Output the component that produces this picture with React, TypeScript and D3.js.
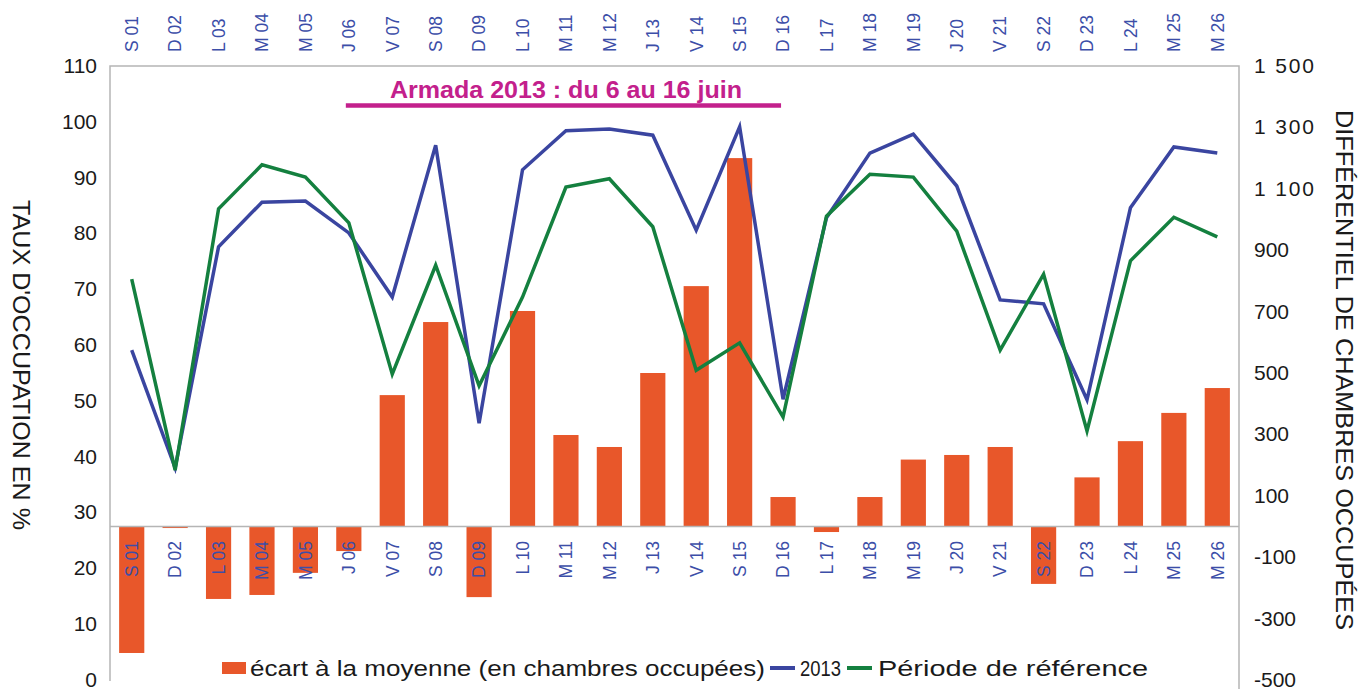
import { useEffect, useRef } from "react";
import * as d3 from "d3";

const categories = [
  "S 01", "D 02", "L 03", "M 04", "M 05", "J 06", "V 07", "S 08", "D 09",
  "L 10", "M 11", "M 12", "J 13", "V 14", "S 15", "D 16", "L 17", "M 18",
  "M 19", "J 20", "V 21", "S 22", "D 23", "L 24", "M 25", "M 26",
];

// écart à la moyenne (en chambres occupées) - right axis
const ecart = [
  -412, -5, -236, -223, -151, -80, 428, 666, -230, 702, 298, 259, 500, 783,
  1200, 96, -18, 96, 218, 233, 259, -187, 160, 278, 370, 451,
];

// taux d'occupation 2013 - left axis
const taux2013 = [
  59.1, 38.0, 77.6, 85.6, 85.8, 80.1, 68.6, 95.8, 46.0, 91.4, 98.4, 98.7,
  97.6, 80.6, 99.1, 50.3, 82.8, 94.4, 97.8, 88.5, 68.1, 67.4, 50.2, 84.6,
  95.5, 94.4,
];

// période de référence - left axis
const tauxRef = [
  71.8, 37.6, 84.4, 92.3, 90.1, 81.9, 54.8, 74.3, 52.7, 68.6, 88.3, 89.8,
  81.2, 55.5, 60.4, 47.1, 83.1, 90.6, 90.1, 80.4, 59.1, 72.7, 44.6, 75.1,
  82.9, 79.4,
];

const leftTicks = [0, 10, 20, 30, 40, 50, 60, 70, 80, 90, 100, 110];
const rightTicks = [-500, -300, -100, 100, 300, 500, 700, 900, 1100, 1300, 1500];

const armadaStart = "J 06";
const armadaEnd = "D 16";

const ORANGE = "#e8572a";
const BLUE = "#3a45a0";
const GREEN = "#14803f";
const MAGENTA = "#c3208c";
const LABEL_BLUE = "#3c4ea8";
const GRID = "#b5b5b5";
const FONT = "'Liberation Sans', Arial, sans-serif";

export default function App() {
  const svgRef = useRef<SVGSVGElement>(null);
  const width = 1359;
  const height = 689;

  useEffect(() => {
    if (!svgRef.current) return;
    d3.select(svgRef.current).selectAll("*").remove();
    const svg = d3.select(svgRef.current);

    const left = 110;
    const right = 1239;
    const top = 66;
    const bottom = 680;

    const x = d3
      .scaleBand()
      .domain(categories)
      .range([left, right])
      .paddingInner(0.42)
      .paddingOuter(0.21);
    const cx = (c: string) => (x(c) as number) + x.bandwidth() / 2;

    const yL = d3.scaleLinear().domain([0, 110]).range([bottom, top]);
    const yR = d3.scaleLinear().domain([-500, 1500]).range([bottom, top]);

    // bars
    svg
      .append("g")
      .selectAll("rect")
      .data(ecart)
      .join("rect")
      .attr("x", (_, i) => x(categories[i]) as number)
      .attr("width", x.bandwidth())
      .attr("y", (d) => yR(Math.max(0, d)))
      .attr("height", (d) => Math.abs(yR(d) - yR(0)))
      .attr("fill", ORANGE);

    // frame
    svg
      .append("path")
      .attr("d", `M${left},${bottom + 1}V${top}H${right}V${height}`)
      .attr("fill", "none")
      .attr("stroke", GRID)
      .attr("stroke-width", 1.5);
    svg
      .append("line")
      .attr("x1", left)
      .attr("x2", right)
      .attr("y1", yR(0))
      .attr("y2", yR(0))
      .attr("stroke", GRID)
      .attr("stroke-width", 1.5);

    // lines
    const line = d3
      .line<number>()
      .x((_, i) => cx(categories[i]))
      .y((d) => yL(d));
    svg
      .append("path")
      .datum(taux2013)
      .attr("d", line)
      .attr("fill", "none")
      .attr("stroke", BLUE)
      .attr("stroke-width", 3.5);
    svg
      .append("path")
      .datum(tauxRef)
      .attr("d", line)
      .attr("fill", "none")
      .attr("stroke", GREEN)
      .attr("stroke-width", 3.5);

    // category labels (top and on the zero line)
    const cats = svg.append("g").attr("font-family", FONT).attr("font-size", 17.5).attr("fill", LABEL_BLUE);
    categories.forEach((c) => {
      cats
        .append("text")
        .attr("transform", `translate(${cx(c)},52) rotate(-90)`)
        .attr("dy", "0.36em")
        .attr("text-anchor", "start")
        .text(c);
      cats
        .append("text")
        .attr("transform", `translate(${cx(c)},541) rotate(-90)`)
        .attr("dy", "0.36em")
        .attr("text-anchor", "end")
        .text(c);
    });

    // left axis labels
    const axL = svg.append("g").attr("font-family", FONT).attr("font-size", 21).attr("fill", "#1a1a1a");
    leftTicks.forEach((t) => {
      axL
        .append("text")
        .attr("x", 97)
        .attr("y", yL(t))
        .attr("dy", "0.33em")
        .attr("text-anchor", "end")
        .text(t);
    });

    // right axis labels
    const fmt = (v: number) =>
      Math.abs(v) >= 1000
        ? `${Math.trunc(v / 1000)}\u00a0${String(Math.abs(v) % 1000).padStart(3, "0")}`
        : String(v);
    const axR = svg.append("g").attr("font-family", FONT).attr("font-size", 21).attr("fill", "#1a1a1a");
    rightTicks.forEach((t) => {
      const txt = axR
        .append("text")
        .attr("x", 1254)
        .attr("y", yR(t))
        .attr("dy", "0.33em")
        .attr("text-anchor", "start")
        .text(fmt(t));
      if (Math.abs(t) >= 1000) txt.attr("textLength", 60);
    });

    // axis titles
    svg
      .append("text")
      .attr("transform", `translate(21,365) rotate(90)`)
      .attr("dy", "0.36em")
      .attr("text-anchor", "middle")
      .attr("font-family", FONT)
      .attr("font-size", 23)
      .attr("textLength", 330)
      .attr("lengthAdjust", "spacingAndGlyphs")
      .attr("fill", "#1a1a1a")
      .text("TAUX D'OCCUPATION EN %");
    svg
      .append("text")
      .attr("transform", `translate(1344,370) rotate(90)`)
      .attr("dy", "0.36em")
      .attr("text-anchor", "middle")
      .attr("font-family", FONT)
      .attr("font-size", 23)
      .attr("textLength", 520)
      .attr("lengthAdjust", "spacingAndGlyphs")
      .attr("fill", "#1a1a1a")
      .text("DIFFÉRENTIEL DE CHAMBRES OCCUPÉES");

    // Armada annotation
    const ax1 = cx(armadaStart);
    const ax2 = cx(armadaEnd);
    svg
      .append("line")
      .attr("x1", ax1 - 3)
      .attr("x2", ax2 - 2)
      .attr("y1", 105.5)
      .attr("y2", 105.5)
      .attr("stroke", MAGENTA)
      .attr("stroke-width", 4.5);
    svg
      .append("text")
      .attr("x", 390)
      .attr("y", 98)
      .attr("text-anchor", "start")
      .attr("font-family", FONT)
      .attr("font-weight", "bold")
      .attr("font-size", 23)
      .attr("textLength", 352)
      .attr("lengthAdjust", "spacingAndGlyphs")
      .attr("fill", MAGENTA)
      .text("Armada 2013 : du 6 au 16 juin");

    // legend
    const lg = svg.append("g").attr("font-family", FONT).attr("font-size", 22).attr("fill", "#1a1a1a");
    const ly = 668;
    lg.append("rect").attr("x", 222).attr("y", ly - 6).attr("width", 24).attr("height", 12).attr("fill", ORANGE);
    lg.append("text").attr("x", 250).attr("y", ly).attr("dy", "0.36em")
      .attr("textLength", 515).attr("lengthAdjust", "spacingAndGlyphs")
      .text("écart à la moyenne (en chambres occupées)");
    lg.append("line").attr("x1", 770).attr("x2", 795).attr("y1", ly).attr("y2", ly).attr("stroke", BLUE).attr("stroke-width", 4);
    lg.append("text").attr("x", 800).attr("y", ly).attr("dy", "0.36em")
      .attr("textLength", 41).attr("lengthAdjust", "spacingAndGlyphs")
      .text("2013");
    lg.append("line").attr("x1", 847).attr("x2", 872).attr("y1", ly).attr("y2", ly).attr("stroke", GREEN).attr("stroke-width", 4);
    lg.append("text").attr("x", 878).attr("y", ly).attr("dy", "0.36em")
      .attr("textLength", 270).attr("lengthAdjust", "spacingAndGlyphs")
      .text("Période de référence");
  }, []);

  return (
    <svg
      ref={svgRef}
      width={width}
      height={height}
      viewBox={`0 0 ${width} ${height}`}
      style={{ position: "absolute", left: 0, top: 0, background: "#fff" }}
    ></svg>
  );
}
